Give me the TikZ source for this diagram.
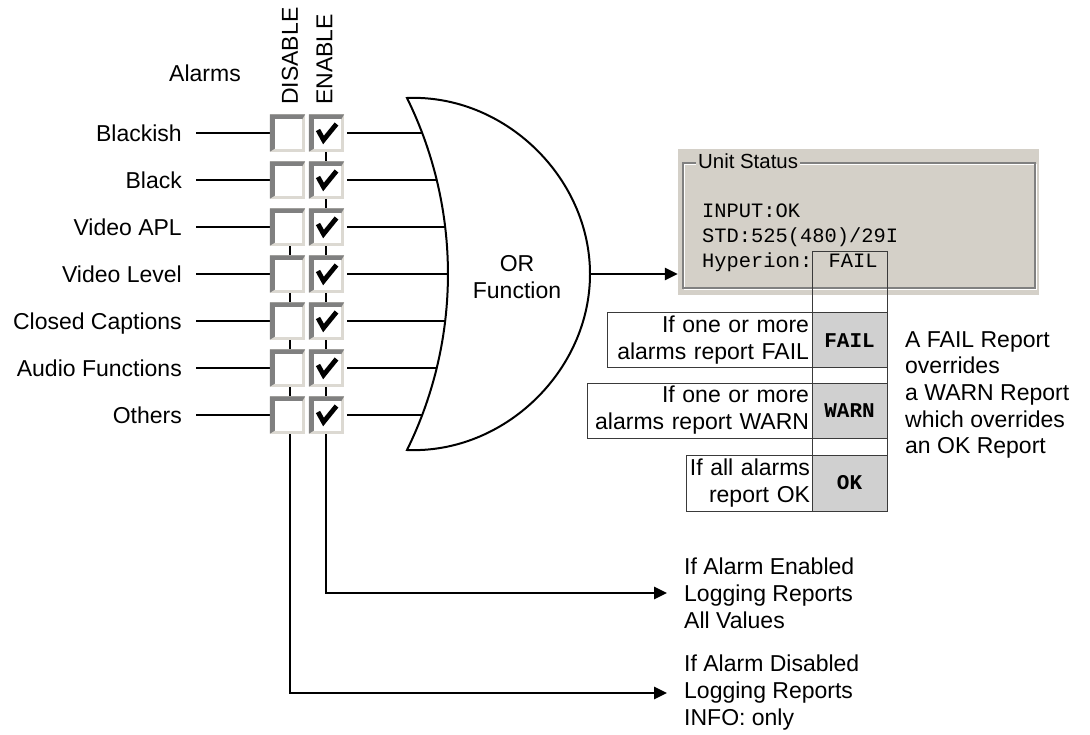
\documentclass[tikz,border=0pt]{standalone}
\usepackage{fontspec}
\setmainfont{Liberation Sans}
\newfontfamily\monof{Liberation Mono}
\usetikzlibrary{arrows.meta}
\definecolor{panelc}{HTML}{D4D0C8}
\definecolor{bvdark}{HTML}{808080}
\definecolor{bvlight}{HTML}{DCD9D2}
\definecolor{cellgray}{HTML}{D0D0D0}
\definecolor{framec}{HTML}{3A3A3A}
\newcommand\bevelbox[1]{%
  \fill[bvlight] (#1.north west) rectangle (#1.south east);
  \fill[bvdark] (#1.south west) -- (#1.north west) -- (#1.north east)
     -- ([xshift=-3pt,yshift=-5pt]#1.north east) -- ([xshift=5pt,yshift=-5pt]#1.north west)
     -- ([xshift=5pt,yshift=3pt]#1.south west) -- cycle;
  \fill[white] ([xshift=5pt,yshift=-5pt]#1.north west) rectangle ([xshift=-3pt,yshift=3pt]#1.south east);
}
\begin{document}
\begin{tikzpicture}[x=1pt,y=-1pt,
  txt/.style={font=\fontsize{23}{27}\selectfont, inner sep=0pt},
  captxt/.style={txt, text height=16.5pt, text depth=0pt},
  chkbox/.style={minimum width=35pt, minimum height=37pt, inner sep=0pt, draw=none},
  wire/.style={line width=2.8pt},
  gateline/.style={line width=2pt},
  arr/.style={wire, -{Triangle[length=13pt,width=12pt]}},
  tcell/.style={draw=framec, line width=1pt, fill=white, txt, align=right, inner xsep=3pt},
  gcell/.style={draw=framec, line width=1pt, fill=cellgray, font=\monof\bfseries\fontsize{21}{24}\selectfont, inner sep=0pt, minimum width=75pt},
  mono/.style={font=\monof\fontsize{20.4}{24}\selectfont, inner sep=0pt, anchor=base west},
  checkm/.style={line width=4.8pt, line join=miter, line cap=butt}
]
\useasboundingbox (0,0) rectangle (1090,735);

% header
\node[captxt] (alarms) at (205,73) {Alarms};
\node[captxt, rotate=90, anchor=west] (hdis) at (289.5,105) {DISABLE};
\node[captxt, rotate=90, anchor=west] (hen) at (324,105) {ENABLE};

% OR gate
\draw[gateline, fill=white] (407,98) .. controls (504,94) and (590,177) .. (590,274)
   .. controls (590,371) and (504,454) .. (407,450)
   .. controls (461.6,339.2) and (461.6,208.8) .. cycle;
\node[txt, align=center] (orf) at (517,277) {OR\\Function};
\coordinate (gout) at (590,274);

% unit status panel
\node[fill=panelc, minimum width=361pt, minimum height=146pt, inner sep=0pt] (unit) at (858.5,222) {};
\draw[white, line width=1.2pt] (684.5,164.5) rectangle (1036.5,289.5);
\draw[bvdark, line width=1.2pt] (683,163) rectangle (1035,288);
\node[anchor=west, fill=panelc, inner sep=2pt, font=\fontsize{20.4}{24}\selectfont] (ustitle) at (696,161) {Unit Status};
\node[mono] (l1) at (702,218) {INPUT:OK};
\node[mono] (l2) at (702,243) {STD:525(480)/29I};
\node[mono] (l3) at (702,268) {Hyperion: FAIL};

% output arrow
\draw[arr] (gout) -- (gout -| unit.west);

% status column
\draw[framec, line width=1pt] (812,252) rectangle (887,511);
\node[tcell, minimum width=205pt, minimum height=55pt, text width=199pt] (t1) at (709.5,340.5) {If one or more\\alarms report FAIL};
\node[gcell, minimum height=55pt] (c1) at (849.5,340.5) {FAIL};
\node[tcell, minimum width=225pt, minimum height=55pt, text width=219pt] (t2) at (699.5,410.5) {If one or more\\alarms report WARN};
\node[gcell, minimum height=55pt] (c2) at (849.5,410.5) {WARN};
\node[tcell, minimum width=126pt, minimum height=56pt, text width=122pt, inner xsep=2pt] (t3) at (749,483) {If all alarms\\report OK};
\node[gcell, minimum height=56pt] (c3) at (849.5,483) {OK};

\node[txt, anchor=west, align=left, font=\fontsize{23}{26.6}\selectfont] (ovr) at (905,395) {A FAIL Report\\overrides\\a WARN Report\\which overrides\\an OK Report};

% logging texts
\node[txt, anchor=west, align=left] (logen) at (684,593) {If Alarm Enabled\\Logging Reports\\All Values};
\node[txt, anchor=west, align=left] (logdis) at (684,693) {If Alarm Disabled\\Logging Reports\\INFO: only};

% rows
\foreach \i/\y/\t/\g in {1/133/Blackish/422.2, 2/180/Black/436.7, 3/227/Video APL/445.2,
   4/274/Video Level/448, 5/321/Closed Captions/445.2, 6/368/Audio Functions/436.7, 7/415/Others/422.2}{
  \node[captxt, anchor=east] (lab\i) at (182,\y) {\t};
  \node[chkbox] (d\i) at (287.5,\y) {};
  \node[chkbox] (e\i) at (326.5,\y) {};
  \coordinate (g\i) at (\g,\y);
}

% logging connectors (behind boxes)
\draw[arr, shorten >=17pt] ([xshift=-0.5pt]e1.south) |- (logen.west);
\draw[arr, shorten >=17pt] ([xshift=2.5pt]d3.south) |- (logdis.west);

\foreach \i in {1,...,7}{
  \draw[wire] ([xshift=14pt]lab\i.east) -- (d\i.west);
  \draw[wire] ([xshift=3pt]e\i.east) -- (g\i);
  \bevelbox{d\i}
  \bevelbox{e\i}
  \draw[checkm] ([xshift=-8.5pt,yshift=3pt]e\i.center) -- ([xshift=-3pt,yshift=-7pt]e\i.center) -- ([xshift=10pt,yshift=9pt]e\i.center);
}
\end{tikzpicture}
\end{document}
